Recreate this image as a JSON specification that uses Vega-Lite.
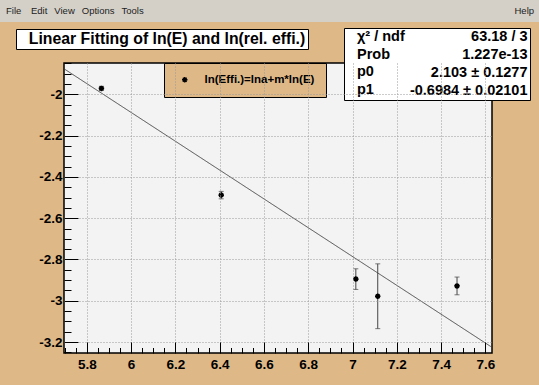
{
  "$schema": "https://vega.github.io/schema/vega-lite/v6.json",
  "width": 428,
  "height": 290,
  "autosize": {"type": "none"},
  "padding": {"left": 64, "top": 63, "right": 47, "bottom": 32},
  "background": "#deb887",
  "config": {
    "view": {"fill": "#f3f3f3", "stroke": "black", "strokeWidth": 1.5},
    "font": "Liberation Sans"
  },
  "datasets": {
    "pts": [
      {"lnE": 5.866, "lnEff": -1.971, "err": 0.010},
      {"lnE": 6.407, "lnEff": -2.488, "err": 0.018},
      {"lnE": 7.015, "lnEff": -2.895, "err": 0.050},
      {"lnE": 7.114, "lnEff": -2.978, "err": 0.157},
      {"lnE": 7.472, "lnEff": -2.928, "err": 0.043}
    ],
    "fit": [
      {"lnE": 5.70, "lnEff": -1.878},
      {"lnE": 7.625, "lnEff": -3.222}
    ]
  },
  "resolve": {"axis": {"x": "independent", "y": "independent"}},
  "layer": [
    {
      "data": {"name": "fit"},
      "mark": {"type": "line", "strokeWidth": 1, "clip": true, "opacity": 0.85},
      "encoding": {
        "x": {
          "field": "lnE", "type": "quantitative",
          "scale": {"domain": [5.697, 7.63], "nice": false, "zero": false},
          "axis": {
            "orient": "top", "offset": -290, "title": null, "labels": false, "domain": false, "grid": false, "zindex": 1,
            "values": [5.7,5.75,5.85,5.9,5.95,6.05,6.1,6.15,6.25,6.3,6.35,6.45,6.5,6.55,6.65,6.7,6.75,6.85,6.9,6.95,7.05,7.1,7.15,7.25,7.3,7.35,7.45,7.5,7.55],
            "ticks": true, "tickColor": "black", "tickWidth": 1, "tickSize": 5.5
          }
        },
        "y": {
          "field": "lnEff", "type": "quantitative",
          "scale": {"domain": [-3.253, -1.848], "nice": false, "zero": false},
          "axis": {
            "orient": "right", "offset": -428, "title": null, "labels": false, "domain": false, "grid": false, "zindex": 1,
            "values": [-3.25,-3.15,-3.1,-3.05,-2.95,-2.9,-2.85,-2.75,-2.7,-2.65,-2.55,-2.5,-2.45,-2.35,-2.3,-2.25,-2.15,-2.1,-2.05,-1.95,-1.9,-1.85],
            "ticks": true, "tickColor": "black", "tickWidth": 1, "tickSize": 7
          }
        },
        "strokeDash": {
          "datum": "Linear Fitting of ln(E) and ln(rel. effi.)",
          "scale": {"range": [[1, 0]]},
          "legend": {
            "orient": "none", "legendX": -48, "legendY": -34, "title": null,
            "fillColor": "white", "strokeColor": "black", "cornerRadius": 0, "padding": 2,
            "symbolOpacity": 0, "symbolSize": 0, "labelOffset": -5, "labelLimit": 1000,
            "labelFont": "Liberation Sans", "labelFontWeight": "bold", "labelFontSize": 15.8, "labelColor": "black"
          }
        },
        "stroke": {
          "datum": "Help",
          "scale": {"range": ["#333333"]},
          "legend": {
            "orient": "none", "legendX": -64, "legendY": -63,
            "title": "File⠀ Edit⠀View⠀Options⠀Tools",
            "titleOrient": "left", "titlePadding": 361, "titleFont": "Liberation Sans", "titleFontSize": 9.5, "titleFontWeight": "normal", "titleColor": "#222222",
            "fillColor": "#d4d0c8", "padding": 6, "cornerRadius": 0,
            "symbolOpacity": 0, "symbolSize": 0, "labelOffset": 0, "labelLimit": 1000,
            "labelFont": "Liberation Sans", "labelFontSize": 9.5, "labelColor": "#222222"
          }
        }
      }
    },
    {
      "data": {"name": "pts"},
      "mark": {"type": "errorbar", "ticks": {"size": 5}, "thickness": 1},
      "encoding": {
        "x": {"field": "lnE", "type": "quantitative", "axis": null},
        "y": {"field": "lnEff", "type": "quantitative", "axis": null},
        "yError": {"field": "err"},
        "color": {
          "datum": "63.18 / 3",
          "scale": {"domain": ["63.18 / 3", "1.227e-13", "2.103 ± 0.1277", "-0.6984 ± 0.02101"], "range": ["#444444", "#444444", "#444444", "#444444"]},
          "legend": {
            "orient": "none", "legendX": 280, "legendY": -35,
            "title": ["⠀χ² / ndf", "⠀Prob", "⠀p0", "⠀p1"],
            "titleOrient": "left", "titleAnchor": "start", "titleBaseline": "top", "titleLineHeight": 17.5, "titlePadding": 4,
            "titleFont": "Liberation Sans", "titleFontSize": 14.5, "titleFontWeight": "bold", "titleColor": "black",
            "fillColor": "white", "strokeColor": "black", "cornerRadius": 0, "padding": 2, "rowPadding": 3,
            "symbolOpacity": 0, "symbolSize": 0, "labelAlign": "right", "labelOffset": 104, "labelLimit": 1000,
            "labelFont": "Liberation Sans", "labelFontWeight": "bold", "labelFontSize": 14.5, "labelColor": "black"
          }
        }
      }
    },
    {
      "data": {"name": "pts"},
      "mark": {"type": "point", "filled": false, "color": "black", "strokeWidth": 1.6, "size": 30, "opacity": 1},
      "encoding": {
        "x": {
          "field": "lnE", "type": "quantitative",
          "axis": {
            "orient": "bottom", "title": null, "domain": false, "zindex": 1,
            "ticks": true, "tickSize": -11, "tickColor": "black", "tickWidth": 1,
            "values": [5.8,6,6.2,6.4,6.6,6.8,7,7.2,7.4,7.6], "format": "~g", "labelOverlap": false,
            "grid": true, "gridColor": "#999999", "gridDash": [1, 2], "gridWidth": 1,
            "labelFont": "Liberation Sans", "labelFontWeight": "bold", "labelFontSize": 13.5, "labelColor": "black", "labelPadding": 15
          }
        },
        "y": {
          "field": "lnEff", "type": "quantitative",
          "axis": {
            "orient": "left", "title": null, "domain": false, "zindex": 1,
            "ticks": true, "tickSize": -14, "tickColor": "black", "tickWidth": 1,
            "values": [-3.2,-3,-2.8,-2.6,-2.4,-2.2,-2], "format": "~g", "labelOverlap": false,
            "labelExpr": "replace(datum.label, '\u2212', '-')",
            "grid": true, "gridColor": "#999999", "gridDash": [1, 2], "gridWidth": 1,
            "labelFont": "Liberation Sans", "labelFontWeight": "bold", "labelFontSize": 13.5, "labelColor": "black", "labelPadding": 16
          }
        },
        "shape": {
          "datum": "ln(Effi.)=lna+m*ln(E)",
          "scale": {"range": ["M-1,0L1,0M0,-1L0,1M-0.7,-0.7L0.7,0.7M-0.7,0.7L0.7,-0.7"]},
          "legend": {
            "orient": "none", "legendX": 100, "legendY": 0, "title": null,
            "fillColor": "#deb887", "strokeColor": "black", "cornerRadius": 0, "padding": 11,
            "symbolSize": 30, "symbolStrokeColor": "black", "symbolStrokeWidth": 1.4, "symbolFillColor": "transparent", "symbolOffset": 4,
            "labelOffset": 14, "labelLimit": 1000,
            "labelFont": "Liberation Sans", "labelFontWeight": "bold", "labelFontSize": 11.5, "labelColor": "black"
          }
        }
      }
    }
  ]
}
